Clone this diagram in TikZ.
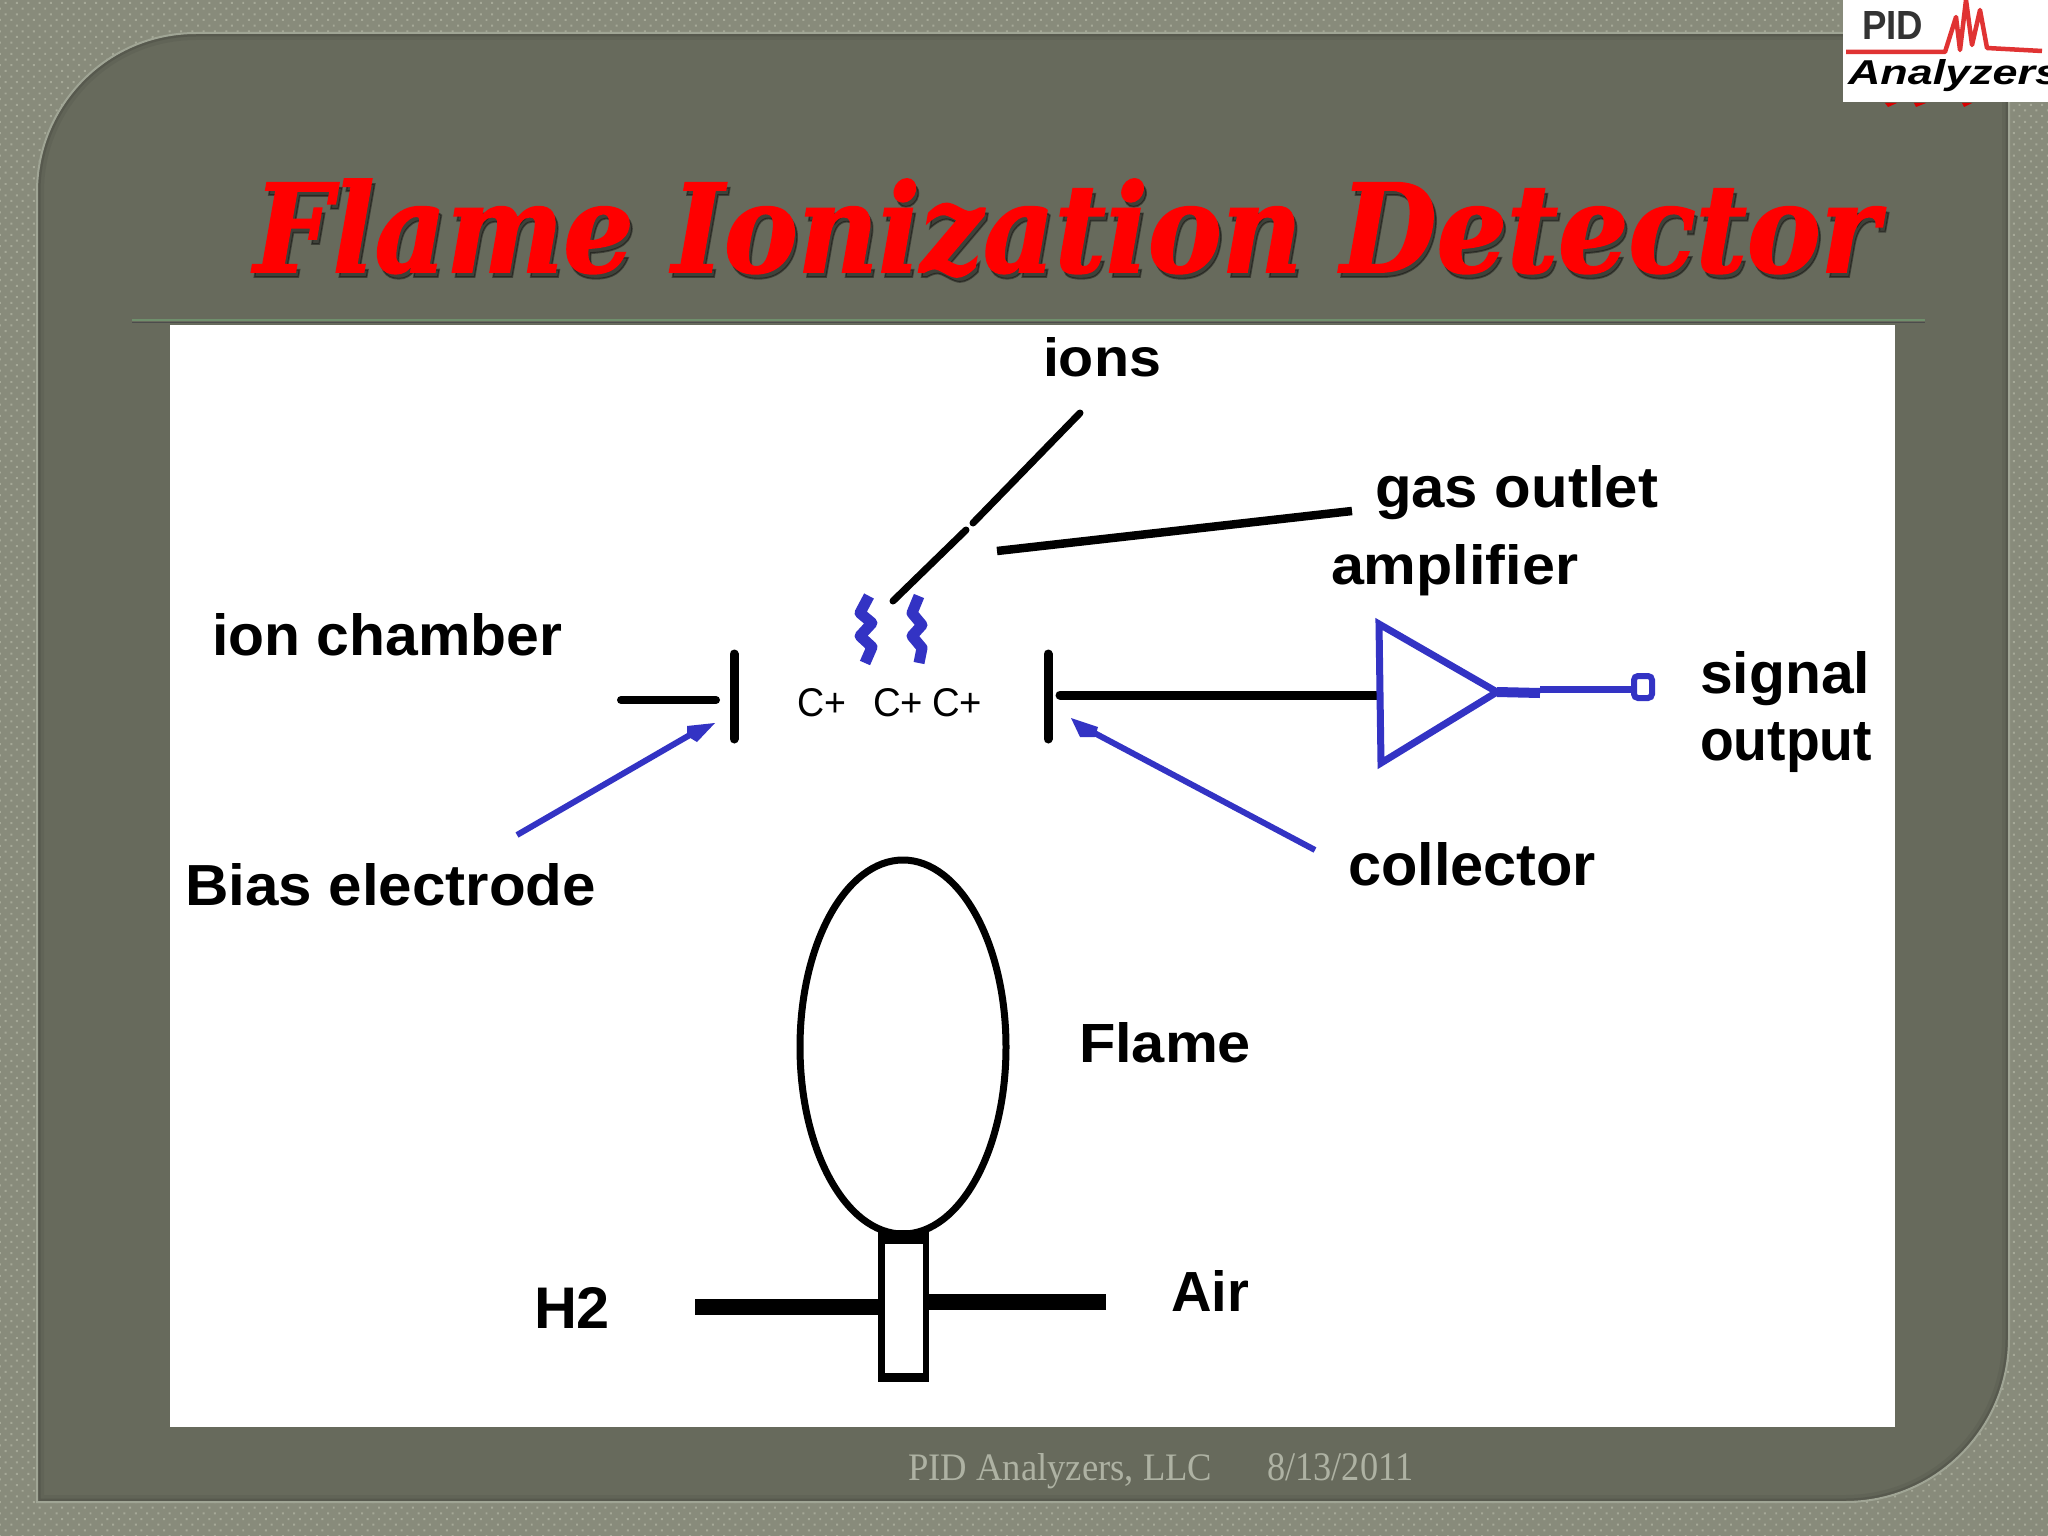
\documentclass[tikz,border=0pt]{standalone}
\usepackage{graphicx}
\usepackage{fontspec}
\setmainfont{Liberation Sans}
\newfontfamily\serifface{Liberation Serif}
\newfontfamily\titleface{DejaVu Serif}[BoldItalicFeatures={FakeBold=1.5}]
\usetikzlibrary{shapes.geometric,patterns.meta}
\definecolor{matcol}{HTML}{888B7B}
\definecolor{dotcol}{HTML}{A6A998}
\definecolor{panelcol}{HTML}{676A5C}
\definecolor{edgecol}{HTML}{A0A595}
\definecolor{bluecol}{HTML}{3333C4}
\definecolor{footcol}{HTML}{AEB2A3}
\definecolor{rulecol}{HTML}{6F8F6C}
\newcommand{\fitbox}[3]{\resizebox{#1pt}{#2pt}{#3}}
\tikzset{
  x=1pt,y=-1pt,
  lbl/.style={anchor=base west,inner sep=0pt,outer sep=0pt,text=black,font=\bfseries},
  thin lbl/.style={anchor=base west,inner sep=0pt,outer sep=0pt,text=black},
  blk/.style={draw=black,line width=#1,line cap=round},
  blk/.default=8pt,
  blu/.style={draw=bluecol,line width=#1,line join=round},
  blu/.default=6pt,
  foot/.style={anchor=base west,inner sep=0pt,text=footcol,font=\serifface},
}
\begin{document}
\begin{tikzpicture}
\useasboundingbox (0,0) rectangle (2048,1536);
% background
\fill[matcol] (0,0) rectangle (2048,1536);
\fill[pattern={Dots[distance=8pt,radius=1.4pt,angle=45]},pattern color=dotcol] (0,0) rectangle (2048,1536);
% panel
\def\panelpath{(37,192) .. controls (37,104) and (108,33) .. (196,33) -- (2009,33) -- (2009,1338) .. controls (2009,1429) and (1936,1502) .. (1845,1502) -- (37,1502) -- cycle}
\fill[panelcol] \panelpath;
\begin{scope}
  \clip \panelpath;
  \draw[black,opacity=.05,line width=14pt] \panelpath;
  \draw[black,opacity=.10,line width=7pt] \panelpath;
\end{scope}
\draw[edgecol,line width=2pt] \panelpath;
% rule and white area
\coordinate (ruleL) at (132,320);
\coordinate (ruleR) at (1925,320);
\draw[rulecol,line width=2.5pt] (ruleL) -- (ruleR);
\draw[black!70,line width=1pt] (ruleL |- 0,322.5) -- (ruleR |- 0,322.5);
\fill[white] (170,325) rectangle (1895,1427);
% title
\node[thin lbl,text=black,opacity=.38] (titleshadow) at (257,277) {\fitbox{1625}{93}{\titleface\bfseries\itshape Flame Ionization Detector}};
\node[thin lbl,text=red] (title) at (254,272) {\fitbox{1625}{93}{\titleface\bfseries\itshape Flame Ionization Detector}};
% logo
\fill[white] (1843,0) rectangle (2048,102);
\fill[red!85!black] (1885,103) -- (1897,103) -- (1888,107) -- cycle (1914,103) -- (1926,103) -- (1916,107) -- cycle (1962,103) -- (1972,103) -- (1964,107) -- cycle;
\node[lbl,text=black!80] (logoPID) at (1862,40) {\fitbox{61}{28}{PID}};
\begin{scope}
  \clip (1843,0) rectangle (2048,102);
  \node[lbl] (logoName) at (1848,85) {\fitbox{212}{25}{\itshape Analyzers}};
  \draw[red!85!black,line width=4.5pt,opacity=.8,line join=round] (1846,52) -- (1945,52) -- (1956,17) -- (1960,50) -- (1966,0) -- (1972,45) -- (1980,10) -- (1987,48) -- (2042,51);
\end{scope}
% labels
\node[lbl] (ions) at (1043,376) {\fitbox{118}{39}{ions}};
\node[lbl] (gas) at (1375,507) {\fitbox{283}{42}{gas outlet}};
\node[lbl] (amp) at (1331,584) {\fitbox{247}{40}{amplifier}};
\node[lbl] (chamber) at (212,655) {\fitbox{350}{42}{ion chamber}};
\node[lbl] (signal) at (1700,693) {\fitbox{170}{42}{signal}};
\node[lbl] (output) at (1700,760) {\fitbox{172}{38}{output}};
\node[lbl] (bias) at (185,905) {\fitbox{411}{42}{Bias electrode}};
\node[lbl] (collector) at (1348,885) {\fitbox{248}{43}{collector}};
\node[lbl] (flametxt) at (1079,1062) {\fitbox{172}{40}{Flame}};
\node[lbl] (h2) at (534,1328) {\fitbox{76}{41}{H2}};
\node[lbl] (air) at (1171,1311) {\fitbox{78}{41}{Air}};
\node[thin lbl] (cA) at (797,716) {\fitbox{49}{28}{C+}};
\node[thin lbl] (cB) at (873,716) {\fitbox{50}{28}{C+}};
\node[thin lbl] (cC) at (932,716) {\fitbox{50}{28}{C+}};
% footer
\node[foot] (footA) at (908,1480) {\fitbox{304}{27}{PID Analyzers, LLC}};
\node[foot] (footB) at (1267,1480) {\fitbox{146}{27}{8/13/2011}};
% coordinates
\coordinate (ionsA) at (1080,413);
\coordinate (ionsB) at (973,523);
\coordinate (ionsC) at (966,530);
\coordinate (ionsD) at (893,601);
\coordinate (gasA) at (997,551);
\coordinate (gasB) at (1352,511);
\coordinate (biasTop) at (734,654);
\coordinate (biasBot) at (734,739);
\coordinate (biasLead) at (621,700);
\coordinate (biasLeadEnd) at (716,700);
\coordinate (collTop) at (1048,654);
\coordinate (collBot) at (1048,739);
\coordinate (collLead) at (1060,695);
\coordinate (ampTop) at (1379,624);
\coordinate (ampBot) at (1381,763);
\coordinate (ampTip) at (1497,692);
\coordinate (ampIn) at (1378,695);
\coordinate (outMid) at (1540,693);
\coordinate (outMidB) at (1540,689);
\coordinate (outEnd) at (1635,689);
\coordinate (biasArrowA) at (517,835);
\coordinate (biasArrowB) at (695,732);
\coordinate (collArrowA) at (1315,850);
\coordinate (collArrowB) at (1085,728);
% ions leader and gas outlet
\draw[blk=7pt] (ionsA) -- (ionsB);
\draw[blk=7pt] (ionsC) -- (ionsD);
\draw[black,line width=8.5pt] (gasA) -- (gasB);
% squiggles
\draw[blu=11pt] (869,596) -- (860,613) -- (872,623) -- (860,636) -- (872,647) -- (865,663);
\draw[blu=11pt] (919,596) -- (912,613) -- (922,625) -- (912,636) -- (922,648) -- (919,663);
% electrodes
\draw[blk=9pt] (biasTop) -- (biasBot);
\draw[blk=8pt] (biasLead) -- (biasLeadEnd);
\draw[blk=9pt] (collTop) -- (collBot);
\draw[blk=9pt] (collLead) -- (ampIn);
% blue arrows
\draw[blu] (biasArrowA) -- (biasArrowB);
\fill[bluecol] (715,723) -- (687,726) -- (687,736) -- (697,742) -- cycle;
\draw[blu] (collArrowA) -- (collArrowB);
\fill[bluecol] (1071,718) -- (1080,737) -- (1095,737) -- (1098,727) -- cycle;
% amplifier
\draw[blu=7pt,line join=miter] (ampTip) -- (ampTop) -- (ampBot) -- cycle;
\draw[bluecol,line width=10pt] (ampTip) -- (outMid);
\draw[bluecol,line width=7pt] (outMidB) -- (outEnd);
\node[rectangle,rounded corners=4pt,draw=bluecol,line width=6pt,minimum width=18pt,minimum height=22pt,inner sep=0pt] (term) at (1643,687) {};
% flame and burner
\node[ellipse,draw=black,line width=7pt,minimum width=206pt,minimum height=374pt,inner sep=0pt] (flame) at (903,1047) {};
\node[rectangle,fill=black,minimum width=51pt,minimum height=152pt,inner sep=0pt] (nozzle) at (903.5,1306) {};
\node[rectangle,fill=white,minimum width=38pt,minimum height=129pt,inner sep=0pt] (bore) at (904,1308.5) {};
\coordinate (h2end) at (695,1307);
\coordinate (airend) at (1106,1302);
\draw[black,line width=16pt] (h2end) -- (nozzle.west |- h2end);
\draw[black,line width=16pt] (airend) -- (nozzle.east |- airend);
\end{tikzpicture}
\end{document}
